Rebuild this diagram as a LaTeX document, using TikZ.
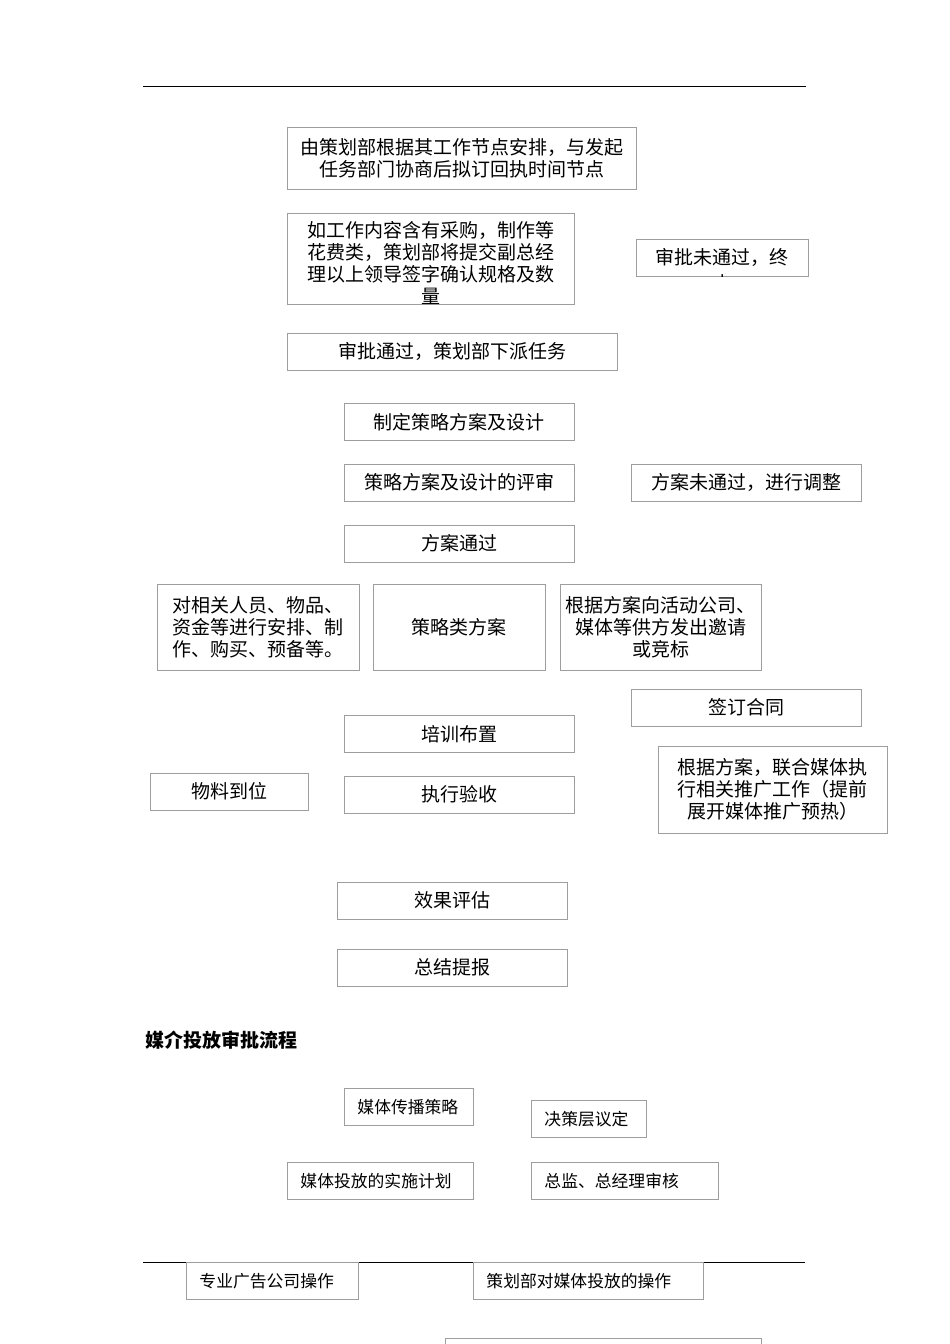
\documentclass[tikz,border=0pt]{standalone}
\usepackage{fontspec}
\newfontfamily\cjk{Noto Sans CJK SC}
\begin{document}
\begin{tikzpicture}[
      x=1pt, y=-1pt,
      % --- STYLES ---
      every node/.style={font=\cjk\fontsize{19}{22}\selectfont},
      box/.style={rectangle, draw=black!38, line width=0.9pt, inner sep=0pt, align=center},
      wide/.style={minimum width=230pt, minimum height=37pt},
      sbox/.style={rectangle, draw=black!38, line width=0.9pt, anchor=north west, inner xsep=13pt, inner ysep=0pt,
                   minimum height=37pt, align=left, font=\cjk\fontsize{16.8}{20}\selectfont},
      rule/.style={line width=0.9pt, draw=black}
  ]
    \useasboundingbox (0,0) rectangle (950,1344);
    %
    % 1. Rules
    \draw[rule] (143,86) -- (806,86);
    \draw[rule] (143,1262) -- (805,1262);
    %
    % 2. Approval steps
    \node[box, minimum width=349pt, minimum height=62pt] (node1) at (461.5,158) {由策划部根据其工作节点安排，与发起\\任务部门协商后拟订回执时间节点};
    \node[box, minimum width=287pt, minimum height=91pt] (buy) at (430.5,258.5) {};
    \begin{scope}
      \clip (buy.north west) rectangle (buy.south east);
      \node[align=center, inner sep=0pt, anchor=north] (buyt) at (430.5,221) {如工作内容含有采购，制作等\\花费类，策划部将提交副总经\\理以上领导签字确认规格及数\\量};
    \end{scope}
    \node[box, minimum width=172pt, minimum height=37pt] (stop) at (722,257.5) {};
    \begin{scope}
      \clip (stop.north west) rectangle (stop.south east);
      \node[align=center, inner sep=0pt, anchor=north] (stopt) at (722,248) {审批未通过，终\\[4pt]止};
    \end{scope}
    \node[box, minimum width=330pt, minimum height=37pt] (pass) at (452,351.5) {审批通过，策划部下派任务};
    %
    % 3. Plan and review
    \node[box, wide] (design) at (459,422) {制定策略方案及设计};
    \node[box, wide] (review) at (459,482.5) {策略方案及设计的评审};
    \node[box, wide] (adjust) at (746,482.5) {方案未通过，进行调整};
    \node[box, wide] (ok) at (459,543.5) {方案通过};
    %
    % 4. Three branches
    \node[box, minimum width=202pt, minimum height=86pt] (prep) at (258,627) {对相关人员、物品、\\资金等进行安排、制\\作、购买、预备等。};
    \node[box, minimum width=172pt, minimum height=86pt] (strat) at (459,627) {策略类方案};
    \node[box, minimum width=201pt, minimum height=86pt] (invite) at (660.5,627) {根据方案向活动公司、\\媒体等供方发出邀请\\或竞标};
    \node[box, wide] (sign) at (746,707.5) {签订合同};
    \node[box, wide] (train) at (459,734) {培训布置};
    \node[box, minimum width=158pt, minimum height=37pt] (goods) at (229,791.5) {物料到位};
    \node[box, wide] (check) at (459,794.5) {执行验收};
    \node[box, minimum width=229pt, minimum height=87pt] (media) at (772.5,789.5) {根据方案，联合媒体执\\行相关推广工作（提前\\展开媒体推广预热）};
    %
    % 5. Evaluation
    \node[box, wide] (eval) at (452,900.5) {效果评估};
    \node[box, wide] (report) at (452,967.5) {总结提报};
    %
    % 6. Media approval flow
    \node[anchor=west, inner sep=0pt, font=\cjk\bfseries\fontsize{19}{22}\selectfont] (title) at (145,1040) {媒介投放审批流程};
    \node[sbox, text width=103pt] (mstrat) at (344,1088) {媒体传播策略};
    \node[sbox, text width=89pt] (decide) at (531,1100) {决策层议定};
    \node[sbox, text width=160pt] (mplan) at (287,1162) {媒体投放的实施计划};
    \node[sbox, text width=161pt] (audit) at (531,1162) {总监、总经理审核};
    \node[sbox, text width=146pt] (agency) at (186,1262) {专业广告公司操作};
    \node[sbox, text width=204pt] (dept) at (473,1262) {策划部对媒体投放的操作};
    \draw[draw=black!38, line width=0.9pt] (445,1370) -- (445,1338) -- (761,1338) -- (761,1370);
  \end{tikzpicture}
\end{document}
